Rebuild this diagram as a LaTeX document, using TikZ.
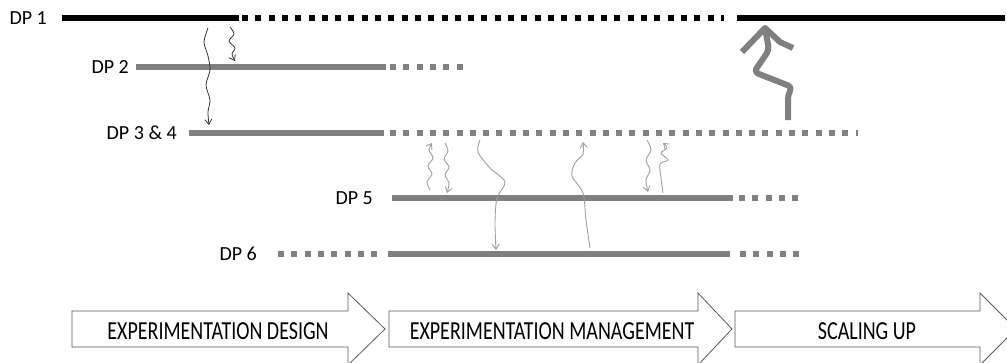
\documentclass[tikz,border=0pt]{standalone}
\usepackage{fontspec}
\setmainfont{Carlito}
\usetikzlibrary{arrows.meta}
\definecolor{linegray}{rgb}{0.5,0.5,0.5}
\definecolor{wiggray}{rgb}{0.62,0.62,0.62}
\definecolor{boxgray}{rgb}{0.35,0.35,0.35}

\begin{document}
\begin{tikzpicture}[x=1pt,y=-1pt,>={Straight Barb[length=5pt,width=7pt]},
	dplabel/.style={anchor=east,font=\fontsize{20}{24}\selectfont,inner sep=0pt},
	solidline/.style={line width=6pt},
	dotline/.style={line width=6pt,dash pattern=on 6pt off 7.3pt},
	wiggle/.style={->,color=wiggray,line width=0.9pt},
	phase/.style={draw=boxgray,line width=0.8pt,fill=white},
	phasetext/.style={font=\fontsize{20}{24}\selectfont,inner sep=0pt}]
			\useasboundingbox (0,0) rectangle (1007,362);
			% decision points
			\node[dplabel] (dp1) at (47,18) {DP 1};
			\node[dplabel] (dp2) at (129,67) {DP 2};
			\node[dplabel] (dp34) at (177,133) {DP 3 \& 4};
			\node[dplabel] (dp5) at (373,198) {DP 5};
			\node[dplabel] (dp6) at (257,254) {DP 6};
			\draw[solidline] (62,18) -- (239,18);
			\draw[dotline] (242,18) -- (724,18);
			\draw[solidline] (737,18) -- (1005,18);
			\draw[solidline,color=linegray] (136,67) -- (386,67);
			\draw[dotline,color=linegray] (390,67) -- (464,67);
			\draw[solidline,color=linegray] (189,133) -- (384,133);
			\draw[dotline,color=linegray] (390,133) -- (858,133);
			\draw[solidline,color=linegray] (392,198) -- (733,198);
			\draw[dotline,color=linegray] (739,198) -- (800,198);
			\draw[dotline,color=linegray] (278,254) -- (380,254);
			\draw[solidline,color=linegray] (388,254) -- (730,254);
			\draw[dotline,color=linegray] (740,254) -- (800,254);
			% hand drawn links
			\draw[->,color=black!80,line width=0.8pt] plot[smooth] coordinates {(208,28) (204,42) (208,56) (210,70) (206,85) (210,100) (208,112) (209,125)};
			\draw[->,color=black!80,line width=0.8pt] plot[smooth] coordinates {(230,27) (234,34) (229,41) (235,48) (232,54) (235,61)};
			\draw[wiggle] plot[smooth] coordinates {(430,190) (427,182) (432,174) (428,166) (433,158) (429,150) (432,143)};
			\draw[wiggle] plot[smooth] coordinates {(445,143) (448,151) (444,159) (449,167) (445,175) (449,183) (447,193)};
			\draw[wiggle] plot[smooth] coordinates {(480,140) (478,152) (490,168) (505,182) (497,198) (495,222) (496,250)};
			\draw[wiggle] plot[smooth] coordinates {(590,248) (586,220) (583,193) (572,176) (575,163) (583,154) (583,142)};
			\draw[wiggle] plot[smooth] coordinates {(647,140) (651,150) (646,160) (650,170) (646,180) (648,192)};
			\draw[wiggle] plot[smooth] coordinates {(663,193) (661,178) (660,164) (668,160) (661,153) (667,148) (663,143)};
			% big return arrow
			\draw[line width=6pt,color=linegray,line join=round,rounded corners=4pt] (788,120) -- (788,95) -- (792,87) -- (754,72) -- (769,50) -- (765,28);
			\draw[line width=6pt,color=linegray,line join=round] (742,52) -- (765,28) -- (780,42) -- (793,48);
			% phases
			\foreach \xl/\xh/\xt/\xc/\nm/\lbl in {72/348/385/218/design/EXPERIMENTATION DESIGN, 389/698/732/552/manage/EXPERIMENTATION MANAGEMENT, 735/980/1016/867/scale/SCALING UP}
			{
				\draw[phase] (\xl,311) -- (\xh,311) -- (\xh,293) -- (\xt,329) -- (\xh,365) -- (\xh,347) -- (\xl,347) -- cycle;
				\node[phasetext] (\nm) at (\xc,331) {\scalebox{1}[1.3]{\lbl}};
			}
		\end{tikzpicture}
\end{document}
